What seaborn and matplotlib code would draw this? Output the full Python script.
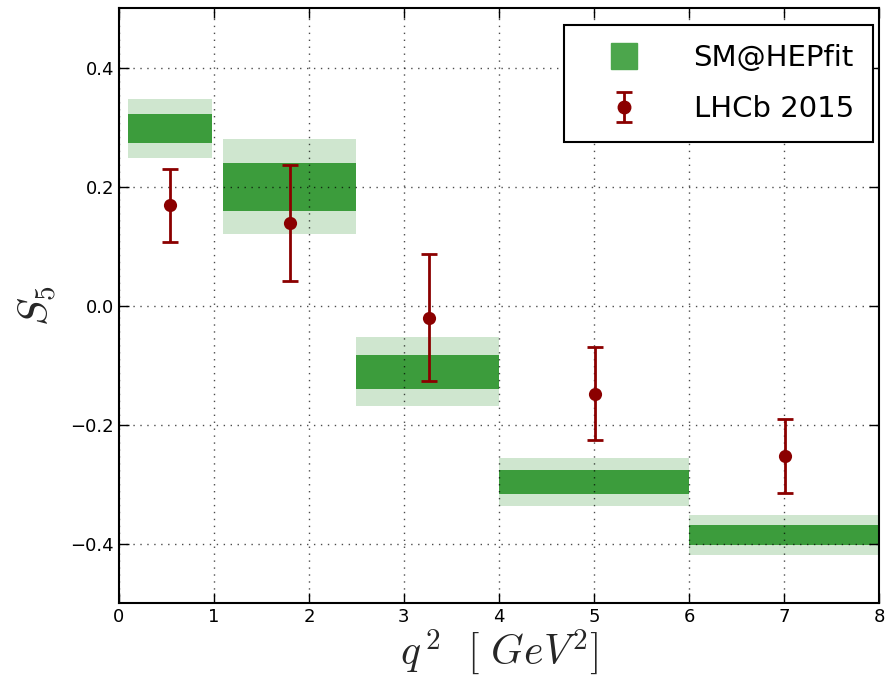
import numpy as np
import pandas as pd
import matplotlib
matplotlib.use("Agg")
import matplotlib.pyplot as plt
import seaborn as sns
from matplotlib.lines import Line2D

# SM@HEPfit prediction bins
bin_lo = [0.1, 1.1, 2.5, 4.0, 6.0]
bin_hi = [0.98, 2.5, 4.0, 6.0, 8.0]
sm_central = [0.298, 0.200, -0.111, -0.296, -0.385]
sm_err1 = [0.024, 0.040, 0.029, 0.020, 0.017]
sm_err2 = [0.049, 0.080, 0.058, 0.041, 0.033]

# LHCb 2015 measurements
lhcb_q2 = [0.54, 1.80, 3.26, 5.01, 7.01]
lhcb_s5 = [0.169, 0.139, -0.020, -0.148, -0.252]
lhcb_err = [0.061, 0.097, 0.107, 0.078, 0.062]

sns.set_style("ticks")
plt.rcParams["font.family"] = ["DejaVu Sans"]
plt.rcParams["mathtext.fontset"] = "cm"

dark_green = "#3c9c3c"
light_green = "#cfe6cf"
red = "#8b0000"

fig = plt.figure(figsize=(8.87, 6.88), dpi=100)
ax = fig.add_axes([0.134, 0.123, 0.857, 0.865])

lo = np.array(bin_lo)
hi = np.array(bin_hi)
c = np.array(sm_central)
e1 = np.array(sm_err1)
e2 = np.array(sm_err2)

ax.bar(lo, 2 * e2, width=hi - lo, bottom=c - e2, align="edge",
       color=light_green, edgecolor="none", zorder=1)
ax.bar(lo, 2 * e1, width=hi - lo, bottom=c - e1, align="edge",
       color=dark_green, edgecolor="none", zorder=2)

ax.errorbar(lhcb_q2, lhcb_s5, yerr=lhcb_err, fmt="none", ecolor=red,
            elinewidth=2, capsize=6, capthick=2, zorder=3)
df = pd.DataFrame({"q2": lhcb_q2, "S5": lhcb_s5})
sns.scatterplot(data=df, x="q2", y="S5", color=red, s=90, edgecolor=red,
                linewidth=0, zorder=4, ax=ax)

ax.set_xlim(0, 8)
ax.set_ylim(-0.5, 0.5)
ax.set_xticks(range(0, 9))
ax.set_yticks([-0.4, -0.2, 0.0, 0.2, 0.4])
ax.set_yticklabels(["\u22120.4", "\u22120.2", "0.0", "0.2", "0.4"])
ax.grid(True, color="black", linestyle=(0, (1, 4)), linewidth=1.0, alpha=0.7)
ax.set_axisbelow(False)
ax.tick_params(direction="in", top=True, right=True, length=7, width=1,
               labelsize=13, colors="black")
for sp in ax.spines.values():
    sp.set_linewidth(1.5)
    sp.set_color("black")

ax.set_xlabel(r"$q^{\,2}\ \ [\ GeV^2 ]$", fontsize=30, labelpad=1)
ax.set_ylabel(r"$S_5$", fontsize=30, labelpad=8)

# legend handles (errorbar placed outside the view so caps are kept)
h_sm = Line2D([], [], marker="s", linestyle="none", color="#4ca64c",
              markersize=19)
h_lhcb = ax.errorbar([-10], [0], yerr=[0.1], fmt="o", color=red, ecolor=red,
                     markersize=9, elinewidth=2, capsize=6, capthick=2)
leg = ax.legend([h_sm, h_lhcb], ["SM@HEPfit", "LHCb 2015"], loc="upper right",
                bbox_to_anchor=(0.992, 0.972), borderaxespad=0,
                fontsize=21, frameon=True, fancybox=False, borderpad=0.65,
                handlelength=2.8, handletextpad=1.0, labelspacing=0.8,
                numpoints=1, labelcolor="black")
leg.get_frame().set_edgecolor("black")
leg.get_frame().set_linewidth(1.5)
leg.get_frame().set_alpha(1)
leg.set_zorder(10)

fig.savefig("out.png", dpi=100)
